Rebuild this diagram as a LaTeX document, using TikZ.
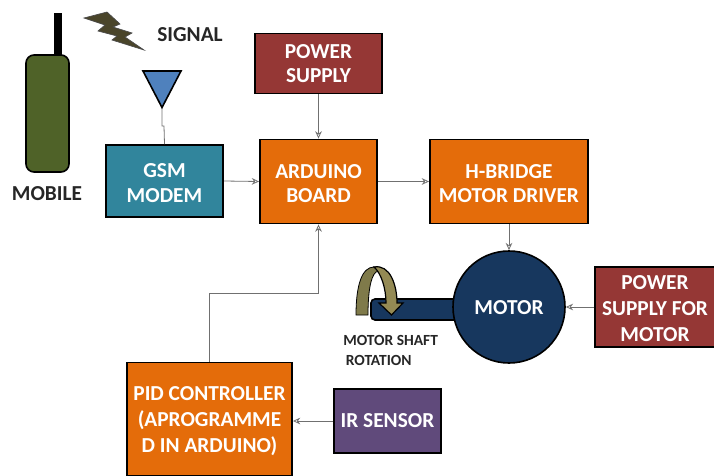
\documentclass[tikz,border=0pt]{standalone}
\usepackage{fontspec}
\setmainfont{Carlito}
\usetikzlibrary{arrows.meta}
\definecolor{orangeb}{HTML}{E46C0A}
\definecolor{redb}{HTML}{953735}
\definecolor{tealb}{HTML}{31859C}
\definecolor{purpleb}{HTML}{604A7B}
\definecolor{navyb}{HTML}{17375E}
\definecolor{greenb}{HTML}{4F6228}
\definecolor{blueb}{HTML}{4F81BD}
\definecolor{boltb}{HTML}{4A452A}
\definecolor{arrowb}{HTML}{948A54}
\definecolor{arrowd}{HTML}{7F7A4A}
\definecolor{linkc}{HTML}{707070}
\newcommand\dnn{\rule{0pt}{13.5pt}}
\tikzset{
  every node/.style={font=\fontsize{16}{18.5}\selectfont\bfseries, align=center, inner sep=0pt},
  blockbox/.style={draw=black, line width=1.4pt, text=white},
  link/.style={draw=linkc, line width=0.6pt, -{Stealth[length=5.5pt,width=5pt,open]}},
  plainlink/.style={draw=linkc, line width=0.6pt},
  lbl/.style={text=black!85},
  tallfont/.style={font=\fontsize{16}{19.5}\selectfont\bfseries}
}
\begin{document}
\begin{tikzpicture}[x=0.75pt,y=-0.75pt]
\useasboundingbox (0,0) rectangle (714,475);
% mobile
\fill[black] (54,13) rectangle (62,56);
\draw[fill=greenb,line width=1.2pt,rounded corners=6pt] (26,55) rectangle (69,172);
\node[lbl] (mobile) at (47,193.5) {MOBILE};
% bolt
\draw[fill=boltb,draw=black!70,line width=0.5pt] (84,18) -- (107,12) -- (120,24) -- (113,27) -- (132,33) -- (125,37) -- (144,50) -- (112,40) -- (117,36) -- (98,31) -- (105,25) -- cycle;
\node[lbl] (signal) at (190,35) {SIGNAL};
% antenna
\draw[fill=blueb,line width=1.2pt] (143,71) -- (181,71) -- (162,107.5) -- cycle;
\coordinate (anttip) at (162,107.5);
% blocks
\node[blockbox, fill=tealb, minimum width=117.5*0.75pt, minimum height=72*0.75pt] (gsm) at (164.5,181) {\dnn GSM\\MODEM};
\node[blockbox, fill=orangeb, minimum width=117*0.75pt, minimum height=84*0.75pt] (arduino) at (318.5,181.5) {\dnn ARDUINO\\BOARD};
\node[blockbox, fill=orangeb, minimum width=158*0.75pt, minimum height=84*0.75pt] (hbridge) at (509,181.5) {\dnn H-BRIDGE\\MOTOR DRIVER};
\node[blockbox, fill=redb, minimum width=127*0.75pt, minimum height=60*0.75pt] (psu) at (318.5,63.5) {POWER\\SUPPLY};
\node[blockbox, tallfont, fill=redb, minimum width=120*0.75pt, minimum height=80*0.75pt] (psm) at (655,307) {\dnn POWER\\SUPPLY FOR\\MOTOR};
\node[blockbox, tallfont, fill=orangeb, minimum width=165*0.75pt, minimum height=113*0.75pt] (pid) at (209.5,419) {\dnn PID CONTROLLER\\(APROGRAMME\\D IN ARDUINO)};
\node[blockbox, fill=purpleb, minimum width=107*0.75pt, minimum height=64*0.75pt] (ir) at (387.5,421) {IR SENSOR};
% shaft
\draw[fill=navyb,line width=1.2pt,rounded corners=3pt] (371,299) rectangle (470,320);
\node[draw=black,line width=1.2pt,fill=navyb,circle,minimum size=112*0.75pt,text=white] (motor) at (509,307) {\rule{0pt}{11.5pt}MOTOR};
% rotation arrow
\fill[arrowd,draw=black,line width=0.6pt] (356,315) .. controls (356,285) and (362,267) .. (374,267) .. controls (380,267) and (384,270) .. (376,272) .. controls (370,277) and (368,295) .. (368,315) -- cycle;
\draw[fill=arrowb,line width=0.9pt] (374,267) .. controls (390,264) and (397,285) .. (397,303) -- (403,303) -- (391.5,315) -- (379,303) -- (386,303) .. controls (386,288) and (381,273) .. (374,267) -- cycle;
\node[lbl,font=\fontsize{11.6}{14.5}\selectfont\bfseries,align=left,anchor=west] (shaftlbl) at (343,350.5) {MOTOR SHAFT\\\,ROTATION};
% connectors
\draw[plainlink] (anttip) -- (162,126) -- (164,126) -- (gsm.north);
\draw[link] (gsm.east) -- (arduino.west);
\draw[link] (psu.south) -- (arduino.north);
\draw[link] (arduino.east) -- (hbridge.west);
\draw[link] (hbridge.south) -- (motor.north);
\draw[link] (psm.west) -- (motor.east);
\draw[link] (ir.west) -- (pid.east |- ir.west);
\coordinate (pidup) at (209.5,293.5);
\draw[link] (pid.north) -- (pidup) -- (pidup -| arduino.south) -- (arduino.south);
\end{tikzpicture}
\end{document}
